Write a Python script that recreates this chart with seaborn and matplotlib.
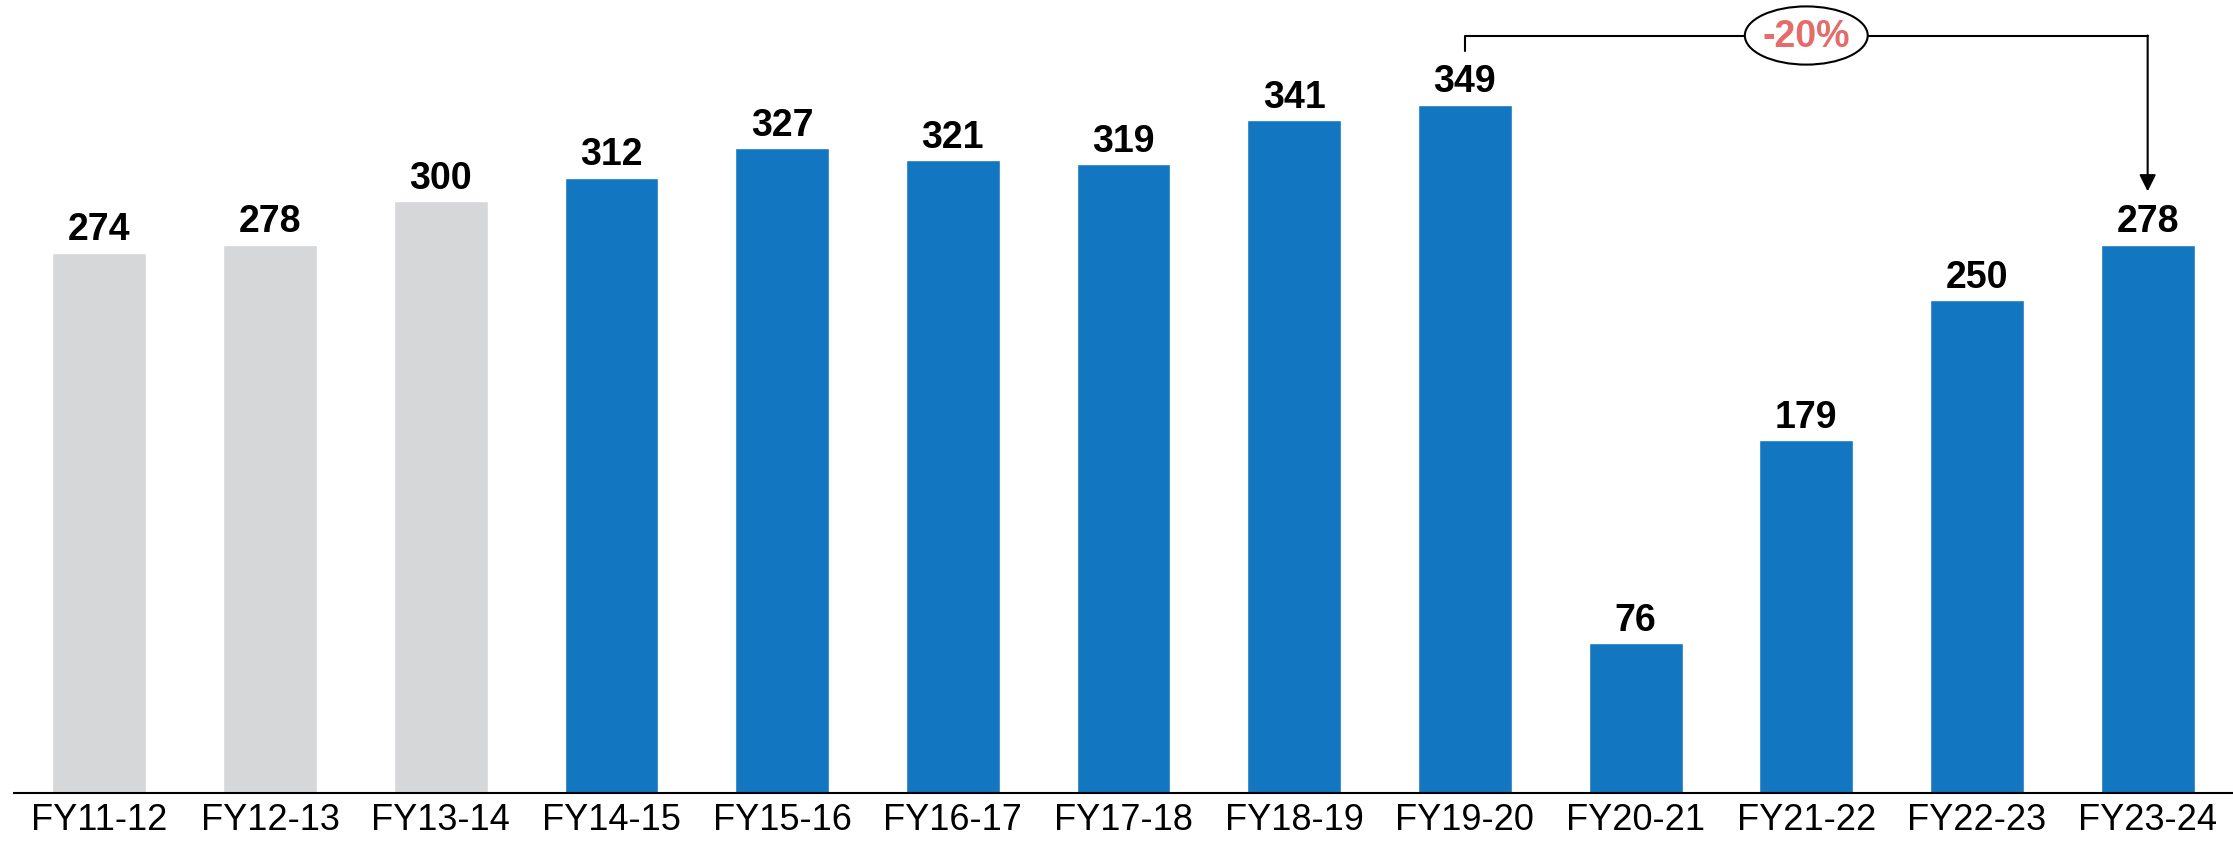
import matplotlib
matplotlib.use('Agg')
import matplotlib.pyplot as plt
from matplotlib.patches import Ellipse
import seaborn as sns
import pandas as pd

# data
periods = ['FY11-12', 'FY12-13', 'FY13-14', 'FY14-15', 'FY15-16', 'FY16-17', 'FY17-18',
           'FY18-19', 'FY19-20', 'FY20-21', 'FY21-22', 'FY22-23', 'FY23-24']
values = [274, 278, 300, 312, 327, 321, 319, 341, 349, 76, 179, 250, 278]
bar_colors = ['#D6D7D9'] * 3 + ['#1277C0'] * 10
change_label = '-20%'
change_from = 'FY19-20'
change_to = 'FY23-24'

sns.set_style('white')
plt.rcParams['font.family'] = ['Liberation Sans', 'DejaVu Sans']

df = pd.DataFrame({'period': periods, 'value': values})

fig = plt.figure(figsize=(22.33, 8.46), dpi=100)
ax = fig.add_axes([0.0063, 0.0626, 0.9937, 0.9374])

sns.barplot(data=df, x='period', y='value', hue='period', palette=bar_colors,
            width=0.55, legend=False, ax=ax, saturation=1)

for c in ax.containers:
    ax.bar_label(c, padding=3, fontsize=27, fontweight='bold', color='black')

ax.set_xlim(-0.5, len(periods) - 0.5)
ax.set_ylim(0, 402)
ax.set_xlabel('')
ax.set_ylabel('')
ax.set_yticks([])
ax.tick_params(axis='x', length=0, pad=7, labelsize=26, colors='black')
for s in ['top', 'left', 'right']:
    ax.spines[s].set_visible(False)
ax.spines['bottom'].set_color('black')
ax.spines['bottom'].set_linewidth(1.5)

# -20% bracket from FY19-20 to FY23-24
i0 = periods.index(change_from)
i1 = periods.index(change_to)
top_y = 384
mid_x = (i0 + i1) / 2
ax.plot([i0, i0, i1], [376, top_y, top_y], color='black', lw=1.5, clip_on=False)
ax.annotate('', xy=(i1, values[i1] + 27), xytext=(i1, top_y),
            arrowprops=dict(arrowstyle='-|>', color='black', lw=1.5, mutation_scale=25,
                            shrinkA=0, shrinkB=0))
ax.add_patch(Ellipse((mid_x, top_y), 0.72, 29.5, fc='white', ec='black', lw=1.5,
                     clip_on=False, zorder=5))
ax.text(mid_x, top_y - 1, change_label, ha='center', va='center', zorder=6,
        fontsize=27, fontweight='bold', color='#E46C6A')

plt.savefig('out.png', dpi=100)
plt.close('all')
